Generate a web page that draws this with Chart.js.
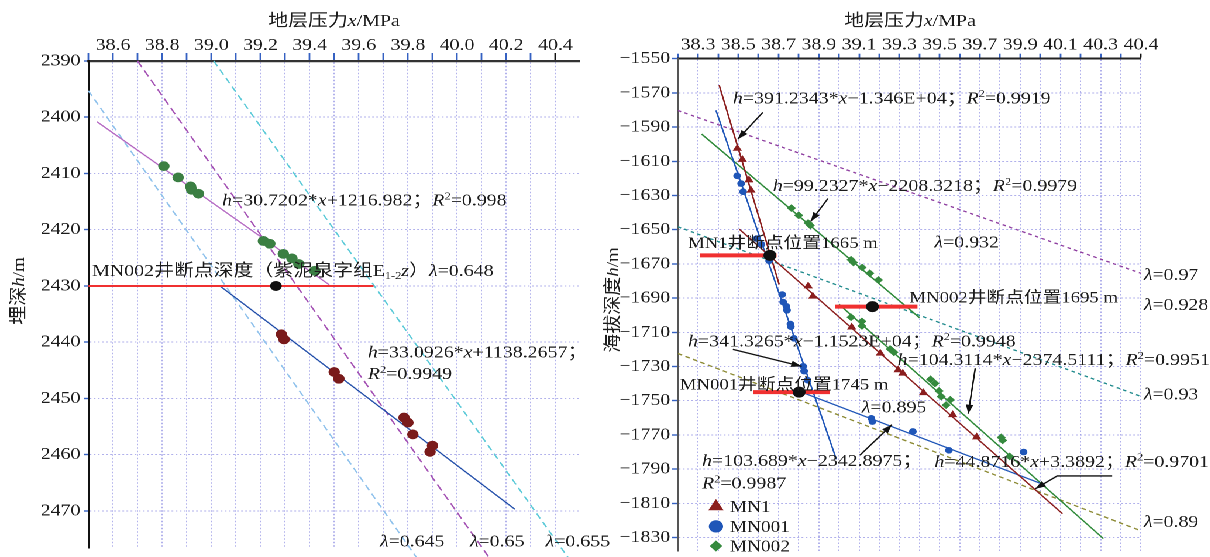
<!DOCTYPE html>
<html>
<head>
<meta charset="utf-8">
<script src="https://cdn.jsdelivr.net/npm/chart.js@4.4.1/dist/chart.umd.min.js"></script>
<style>
  html, body { margin: 0; padding: 0; background: #fff; overflow: hidden; }
  #wrap { position: absolute; left: 0; top: 0; width: 1035px; height: 557px;
          transform: scaleX(1.17); transform-origin: 0 0; }
  #c1 { position: absolute; left: 0; top: 0; }
  #c2 { position: absolute; left: 513px; top: 0; }
</style>
</head>
<body>
<div id="wrap">
  <canvas id="c1" width="530" height="557"></canvas>
  <canvas id="c2" width="522" height="557"></canvas>
</div>
<script>
// ---------- left panel: burial depth h (m) vs formation pressure x (MPa) ----------
const leftXTicks = [38.5, 38.6, 38.7, 38.8, 38.9, 39.0, 39.1, 39.2, 39.3, 39.4, 39.5,
                    39.6, 39.7, 39.8, 39.9, 40.0, 40.1, 40.2, 40.3, 40.4, 40.5];
const leftXLabelled = [38.6, 38.8, 39.0, 39.2, 39.4, 39.6, 39.8, 40.0, 40.2, 40.4];
const leftYTicks = [2390, 2400, 2410, 2420, 2430, 2440, 2450, 2460, 2470];

// MN002 upper section samples
const upperX = [38.807, 38.865, 38.916, 38.920, 38.948, 39.212, 39.238, 39.293, 39.328, 39.356, 39.421];
const upperH = [2408.7, 2410.7, 2412.3, 2412.9, 2413.6, 2422.0, 2422.5, 2424.3, 2425.1, 2426.1, 2427.3];
// MN002 lower section samples
const lowerX = [39.285, 39.296, 39.500, 39.519, 39.784, 39.800, 39.820, 39.900, 39.890];
const lowerH = [2438.6, 2439.5, 2445.3, 2446.5, 2453.4, 2454.3, 2456.4, 2458.4, 2459.5];

// fitted trends (end points)
const upperFitX = [38.535, 39.48];
const upperFitH = [2400.8, 2429.8];
const lowerFitX = [39.035, 40.235];
const lowerFitH = [2430.0, 2469.7];

// pressure-coefficient reference lines
const lam645X = [38.50, 39.84];
const lam645H = [2395.3, 2478.6];
const lam650X = [38.70, 40.135];
const lam650H = [2390.0, 2478.6];
const lam655X = [39.01, 40.455];
const lam655H = [2390.0, 2478.5];

// MN002 break point depth
const breakLineX = [38.5, 39.66];
const breakLineH = [2430, 2430];
const breakDotX = [39.263];
const breakDotH = [2430];

// ---------- right panel: elevation depth h (m) vs formation pressure x (MPa) ----------
const rightXTicks = [38.2, 38.3, 38.4, 38.5, 38.6, 38.7, 38.8, 38.9, 39.0, 39.1, 39.2, 39.3,
                     39.4, 39.5, 39.6, 39.7, 39.8, 39.9, 40.0, 40.1, 40.2, 40.3, 40.4, 40.5];
const rightXLabelAt = [38.3, 38.5, 38.7, 38.9, 39.1, 39.3, 39.5, 39.7, 39.9, 40.1, 40.3, 40.5];
const rightXLabelText = ['38.3', '38.5', '38.7', '38.9', '39.1', '39.3', '39.5', '39.7', '39.9', '40.1', '40.3', '40.4'];
const rightYTicks = [-1550, -1570, -1590, -1610, -1630, -1650, -1670, -1690, -1710, -1730,
                     -1750, -1770, -1790, -1810, -1830];

const mn1X = [38.495, 38.520, 38.553, 38.563, 38.847, 38.870, 39.063, 39.205, 39.294, 39.317, 39.420, 39.565, 39.684];
const mn1H = [-1602.5, -1609.0, -1621.0, -1627.0, -1683.0, -1689.0, -1707.0, -1722.3, -1732.0, -1734.0, -1745.4, -1758.3, -1771.3];
const mn001X = [38.494, 38.514, 38.524, 38.591, 38.615, 38.645, 38.653, 38.718, 38.723, 38.739, 38.742,
                38.759, 38.761, 38.776, 38.822, 38.827, 38.844, 39.161, 39.166, 39.367, 39.546, 39.917];
const mn001H = [-1618.5, -1623.0, -1627.8, -1655.2, -1658.6, -1665.3, -1668.2, -1687.9, -1692.3, -1694.8, -1697.1,
                -1705.2, -1706.7, -1713.5, -1729.9, -1732.7, -1738.0, -1760.3, -1762.2, -1768.0, -1779.0, -1780.0];
const mn002X = [38.764, 38.800, 38.847, 38.858, 39.060, 39.072, 39.115, 39.153, 39.196, 39.060, 39.114, 39.114,
                39.254, 39.273, 39.455, 39.477, 39.497, 39.508, 39.532, 39.553, 39.806, 39.813, 39.848];
const mn002H = [-1637.4, -1641.6, -1646.1, -1647.5, -1667.6, -1669.2, -1672.1, -1675.5, -1679.4, -1701.2, -1703.6, -1706.3,
                -1719.8, -1721.7, -1737.5, -1739.9, -1744.3, -1747.6, -1752.6, -1749.5, -1771.5, -1773.2, -1782.6];

// fitted trends (end points)
const mn1SteepX = [38.405, 38.703];
const mn1SteepH = [-1565.4, -1682.0];
const mn1GentleX = [38.505, 40.11];
const mn1GentleH = [-1649.7, -1816.1];
const mn001SteepX = [38.389, 38.987];
const mn001SteepH = [-1580.2, -1784.3];
const mn001GentleX = [38.805, 40.0];
const mn001GentleH = [-1744.6, -1798.3];
const mn002UpperX = [38.318, 39.40];
const mn002UpperH = [-1594.1, -1701.5];
const mn002LowerX = [39.0, 40.313];
const mn002LowerH = [-1693.6, -1830.6];

// pressure-coefficient reference lines
const lam97X = [38.2, 40.5];
const lam97H = [-1580.3, -1675.5];
const lam93X = [38.2, 40.5];
const lam93H = [-1648.3, -1747.5];
const lam89X = [38.2, 40.5];
const lam89H = [-1722.4, -1826.1];

// break point positions of the wells
const mn1BreakX = [38.31, 38.69];
const mn1BreakH = [-1665, -1665];
const mn002BreakX = [38.98, 39.39];
const mn002BreakH = [-1695, -1695];
const mn001BreakX = [38.574, 38.954];
const mn001BreakH = [-1745, -1745];
const breakPointX = [38.657, 39.166, 38.802];
const breakPointH = [-1665, -1695, -1745];

// ---------- shared styling ----------
const SERIF = '"Liberation Serif", "Noto Sans CJK SC", serif';
const GRID = 'rgba(128,128,222,0.62)';
const TICK = '#3561c2';
const INK = '#1c1c1c';
Chart.defaults.font.family = SERIF;
Chart.defaults.color = INK;

function xy(xs, ys) { return xs.map((v, i) => ({ x: v, y: ys[i] })); }
function lineSet(xs, ys, color, width, dash, order, noClip) {
  const d = { data: xy(xs, ys), showLine: true, borderColor: color, backgroundColor: color,
    borderWidth: width, borderDash: dash || [], pointRadius: 0, pointHoverRadius: 0,
    pointHitRadius: 0, order: order, tension: 0 };
  if (noClip) d.clip = false;
  return d;
}
function pointSet(xs, ys, color, style, r, order) {
  return { data: xy(xs, ys), showLine: false, pointStyle: style, pointRadius: r,
    pointHoverRadius: r, backgroundColor: color, borderColor: color, borderWidth: 1, order: order };
}

// rich text: {i:..} italic, {sup:..} superscript, {sub:..} subscript
function parseRich(str) {
  const out = []; const re = /\{(i|sup|sub):([^}]*)\}/g; let last = 0, m;
  while ((m = re.exec(str))) {
    if (m.index > last) out.push({ t: str.slice(last, m.index), k: 'n' });
    out.push({ t: m[2], k: m[1] }); last = re.lastIndex;
  }
  if (last < str.length) out.push({ t: str.slice(last), k: 'n' });
  return out;
}
function partFont(p, size) {
  const s = (p.k === 'sup' || p.k === 'sub') ? size * 0.62 : size;
  return (p.k === 'i' ? 'italic ' : '') + s.toFixed(2) + 'px ' + SERIF;
}
function drawRich(ctx, str, x, cy, size, align) {
  const parts = parseRich(str);
  let w = 0;
  for (const p of parts) { ctx.font = partFont(p, size); w += ctx.measureText(p.t).width; }
  let cx = align === 'center' ? x - w / 2 : x;
  const base = cy + size * 0.34;
  ctx.textBaseline = 'alphabetic'; ctx.textAlign = 'left'; ctx.fillStyle = INK;
  for (const p of parts) {
    ctx.font = partFont(p, size);
    let dy = 0;
    if (p.k === 'sup') dy = -size * 0.36;
    if (p.k === 'sub') dy = size * 0.18;
    ctx.fillText(p.t, cx, base + dy);
    cx += ctx.measureText(p.t).width;
  }
}
function drawVertical(ctx, str, x, y, size) {
  ctx.save(); ctx.translate(x, y); ctx.rotate(-Math.PI / 2); ctx.scale(1, 0.8);
  drawRich(ctx, str, 0, 0, size, 'center');
  ctx.restore();
}
function drawArrow(ctx, pts) {
  ctx.save();
  ctx.strokeStyle = '#111'; ctx.fillStyle = '#111'; ctx.lineWidth = 1.3;
  ctx.beginPath(); ctx.moveTo(pts[0][0], pts[0][1]);
  for (let i = 1; i < pts.length; i++) ctx.lineTo(pts[i][0], pts[i][1]);
  ctx.stroke();
  const [x1, y1] = pts[pts.length - 2], [x2, y2] = pts[pts.length - 1];
  const a = Math.atan2(y2 - y1, x2 - x1), L = 9, W = 3.2;
  ctx.beginPath();
  ctx.moveTo(x2, y2);
  ctx.lineTo(x2 - L * Math.cos(a) + W * Math.sin(a), y2 - L * Math.sin(a) - W * Math.cos(a));
  ctx.lineTo(x2 - L * Math.cos(a) - W * Math.sin(a), y2 - L * Math.sin(a) + W * Math.cos(a));
  ctx.closePath(); ctx.fill();
  ctx.restore();
}
function near(a, b) { return Math.abs(a - b) < 1e-6; }

// ---------- left chart ----------
const leftNotes = [
  [39.044, 2414.7, '{i:h}=30.7202*{i:x}+1216.982；{i:R}{sup:2}=0.998', 17],
  [38.515, 2427.2, 'MN002井断点深度（紫泥泉字组E{sub:1-2}{i:z}）{i:λ}=0.648', 17],
  [39.637, 2441.7, '{i:h}=33.0926*{i:x}+1138.2657；', 17],
  [39.637, 2445.5, '{i:R}{sup:2}=0.9949', 17],
  [39.686, 2475.3, '{i:λ}=0.645', 17],
  [40.052, 2475.3, '{i:λ}=0.65', 17],
  [40.360, 2475.3, '{i:λ}=0.655', 17]
];

const leftDecor = {
  id: 'leftDecor',
  afterDraw(chart) {
    const { ctx, scales: { x, y } } = chart;
    ctx.save();
    drawRich(ctx, '地层压力{i:x}/MPa', 285.5, 20, 17, 'center');
    drawVertical(ctx, '埋深{i:h}/m', 15.4, 291, 19);
    for (const n of leftNotes) drawRich(ctx, n[2], x.getPixelForValue(n[0]), y.getPixelForValue(n[1]), n[3], 'left');
    ctx.restore();
  }
};

new Chart(document.getElementById('c1'), {
  type: 'scatter',
  data: {
    datasets: [
      pointSet(breakDotX, breakDotH, '#111', 'circle', 4.5, 0),
      pointSet(upperX, upperH, '#3b7f43', 'circle', 4.4, 1),
      pointSet(lowerX, lowerH, '#7a1b1b', 'circle', 4.4, 1),
      lineSet(breakLineX, breakLineH, '#f03030', 2, [], 2),
      lineSet(upperFitX, upperFitH, '#b468c2', 1.2, [], 3),
      lineSet(lowerFitX, lowerFitH, '#2450aa', 1.3, [], 3),
      lineSet(lam645X, lam645H, '#90c2ec', 1.3, [6, 4], 4, true),
      lineSet(lam650X, lam650H, '#a452b4', 1.3, [7, 4], 4, true),
      lineSet(lam655X, lam655H, '#5ccad8', 1.3, [6, 4], 4, true)
    ]
  },
  options: {
    responsive: false, animation: false, devicePixelRatio: 2, events: [],
    layout: { padding: { left: 0, top: 0, right: 34.3, bottom: 9 } },
    plugins: { legend: { display: false }, tooltip: { enabled: false } },
    scales: {
      x: {
        type: 'linear', position: 'top', min: 38.5, max: 40.5,
        afterBuildTicks: s => { s.ticks = leftXTicks.map(v => ({ value: v })); },
        afterFit: s => { s.height = 61; s.paddingLeft = 0; s.paddingRight = 0; },
        ticks: {
          autoSkip: false, maxRotation: 0, minRotation: 0, padding: -2.7, color: INK,
          font: { family: SERIF, size: 17 },
          callback: v => leftXLabelled.some(a => near(a, v)) ? v.toFixed(1) : ''
        },
        grid: {
          color: c => (c.tick && c.tick.value > 40.45) ? 'rgba(0,0,0,0)' : GRID,
          lineWidth: 1, tickLength: 8, tickWidth: 1.4,
          tickColor: c => (c.tick && c.tick.value > 40.45) ? 'rgba(0,0,0,0)' :
                          (c.tick && near(c.tick.value, 40.4)) ? '#111' : TICK
        },
        border: { display: true, color: '#333', width: 2.2, dash: [1.5, 2] }
      },
      y: {
        type: 'linear', reverse: true, min: 2390, max: 2476.6,
        afterBuildTicks: s => { s.ticks = leftYTicks.map(v => ({ value: v })); },
        afterFit: s => { s.width = 75.56; s.paddingTop = 0; s.paddingBottom = 0; },
        ticks: { padding: 2.9, color: INK, font: { family: SERIF, size: 17 }, callback: v => String(v) },
        grid: { color: GRID, lineWidth: 1, tickLength: 3.9, tickWidth: 1.4, tickColor: TICK },
        border: { display: true, color: '#111', width: 1.6, dash: [1.5, 2] }
      }
    }
  },
  plugins: [leftDecor]
});

// ---------- right chart ----------
const rightNotes = [
  [38.473, -1572.7, '{i:h}=391.2343*{i:x}−1.346E+04；{i:R}{sup:2}=0.9919', 17],
  [38.671, -1624.1, '{i:h}=99.2327*{i:x}−2208.3218；{i:R}{sup:2}=0.9979', 17],
  [38.250, -1657.4, 'MN1井断点位置1665 m', 16],
  [39.474, -1657.1, '{i:λ}=0.932', 17],
  [39.350, -1689.4, 'MN002井断点位置1695 m', 16],
  [40.514, -1676.1, '{i:λ}=0.97', 17],
  [40.514, -1693.5, '{i:λ}=0.928', 17],
  [38.250, -1714.8, '{i:h}=341.3265*{i:x}−1.1523E+04；{i:R}{sup:2}=0.9948', 17],
  [39.291, -1725.8, '{i:h}=104.3114*{i:x}−2374.5111；{i:R}{sup:2}=0.9951', 17],
  [38.210, -1740.2, 'MN001井断点位置1745 m', 16],
  [39.113, -1753.5, '{i:λ}=0.895', 17],
  [40.514, -1746.0, '{i:λ}=0.93', 17],
  [38.320, -1784.7, '{i:h}=103.689*{i:x}−2342.8975；', 17],
  [38.320, -1798.0, '{i:R}{sup:2}=0.9987', 17],
  [39.474, -1785.3, '{i:h}=44.8716*{i:x}+3.3892；{i:R}{sup:2}=0.9701', 17],
  [40.514, -1820.6, '{i:λ}=0.89', 17]
];
const rightArrows = [
  [[38.622, -1581.4], [38.498, -1597.0]],
  [[38.945, -1631.8], [38.860, -1645.1]],
  [[38.473, -1720.0], [38.815, -1729.9]],
  [[39.677, -1731.0], [39.642, -1757.6]],
  [[39.104, -1781.9], [39.263, -1764.0]],
  [[40.357, -1794.0], [40.084, -1794.0], [39.975, -1801.5]]
];
const legendItems = [
  ['MN1', 'triangle', '#8b1e1e', 6.5, -1811.9],
  ['MN001', 'circle', '#1f56b8', 5.6, -1823.5],
  ['MN002', 'rectRot', '#358a3e', 4.8, -1835.0]
];

function drawMarker(ctx, style, r, x, y) {
  if (Chart.helpers && Chart.helpers.drawPoint) {
    Chart.helpers.drawPoint(ctx, { pointStyle: style, radius: r, rotation: 0, borderWidth: 1 }, x, y);
  } else {
    ctx.beginPath(); ctx.arc(x, y, r, 0, Math.PI * 2); ctx.fill();
  }
}

const rightDecor = {
  id: 'rightDecor',
  afterDraw(chart) {
    const { ctx, scales: { x, y } } = chart;
    ctx.save();
    drawRich(ctx, '地层压力{i:x}/MPa', 264.8, 20, 17, 'center');
    drawVertical(ctx, '海拔深度{i:h}/m', 10.1, 300, 19);
    for (const a of rightArrows) drawArrow(ctx, a.map(p => [x.getPixelForValue(p[0]), y.getPixelForValue(p[1])]));
    for (const n of rightNotes) drawRich(ctx, n[2], x.getPixelForValue(n[0]), y.getPixelForValue(n[1]), n[3], 'left');
    for (const it of legendItems) {
      const py = y.getPixelForValue(it[4]);
      ctx.fillStyle = it[2]; ctx.strokeStyle = it[2]; ctx.lineWidth = 1;
      drawMarker(ctx, it[1], it[3], x.getPixelForValue(38.389), py);
      drawRich(ctx, it[0], x.getPixelForValue(38.458), py, 16.5, 'left');
    }
    ctx.restore();
  }
};

new Chart(document.getElementById('c2'), {
  type: 'scatter',
  data: {
    datasets: [
      pointSet(breakPointX, breakPointH, '#111', 'circle', 5, 0),
      lineSet(mn1BreakX, mn1BreakH, '#f03030', 4, [], 1),
      lineSet(mn002BreakX, mn002BreakH, '#f03030', 4, [], 1),
      lineSet(mn001BreakX, mn001BreakH, '#f03030', 4, [], 1),
      pointSet(mn1X, mn1H, '#8b1e1e', 'triangle', 3.6, 2),
      pointSet(mn001X, mn001H, '#1f56b8', 'circle', 2.8, 2),
      pointSet(mn002X, mn002H, '#358a3e', 'rectRot', 3.2, 2),
      lineSet(mn1SteepX, mn1SteepH, '#8b1e1e', 1.3, [], 3),
      lineSet(mn1GentleX, mn1GentleH, '#8b1e1e', 1.3, [], 3),
      lineSet(mn001SteepX, mn001SteepH, '#1f56b8', 1.3, [], 3),
      lineSet(mn001GentleX, mn001GentleH, '#1f56b8', 1.3, [], 3),
      lineSet(mn002UpperX, mn002UpperH, '#2f8a3a', 1.3, [], 3),
      lineSet(mn002LowerX, mn002LowerH, '#2f8a3a', 1.3, [], 3),
      lineSet(lam97X, lam97H, '#8e3ea0', 1.3, [3, 3], 4),
      lineSet(lam93X, lam93H, '#1f8a8c', 1.3, [3, 3], 4),
      lineSet(lam89X, lam89H, '#8c8a34', 1.3, [4, 3], 4)
    ]
  },
  options: {
    responsive: false, animation: false, devicePixelRatio: 2, events: [],
    layout: { padding: { left: 0, top: 0, right: 59.8, bottom: 0 } },
    plugins: { legend: { display: false }, tooltip: { enabled: false } },
    scales: {
      x: {
        type: 'linear', position: 'top', min: 38.2, max: 40.5,
        afterBuildTicks: s => { s.ticks = rightXTicks.map(v => ({ value: v })); },
        afterFit: s => { s.height = 58.7; s.paddingLeft = 0; s.paddingRight = 0; },
        ticks: {
          autoSkip: false, maxRotation: 0, minRotation: 0, padding: -1.5, color: INK,
          font: { family: SERIF, size: 17 },
          callback: v => { const i = rightXLabelAt.findIndex(a => near(a, v)); return i < 0 ? '' : rightXLabelText[i]; }
        },
        grid: {
          color: GRID, lineWidth: 1, tickLength: 5, tickWidth: 1.4,
          tickColor: c => (c.tick && near(c.tick.value, 40.5)) ? '#111' : TICK
        },
        border: { display: true, color: '#222', width: 2, dash: [1.5, 2] }
      },
      y: {
        type: 'linear', min: -1837.9, max: -1550,
        afterBuildTicks: s => { s.ticks = rightYTicks.map(v => ({ value: v })); },
        afterFit: s => { s.width = 66.4; s.paddingTop = 0; s.paddingBottom = 0; },
        ticks: { padding: 1.4, color: INK, font: { family: SERIF, size: 17 },
                 callback: v => '\u2212' + Math.abs(v) },
        grid: { color: GRID, lineWidth: 1, tickLength: 5.1, tickWidth: 1.4, tickColor: TICK },
        border: { display: true, color: '#555', width: 1.6, dash: [1.5, 2] }
      }
    }
  },
  plugins: [rightDecor]
});
</script>
</body>
</html>
